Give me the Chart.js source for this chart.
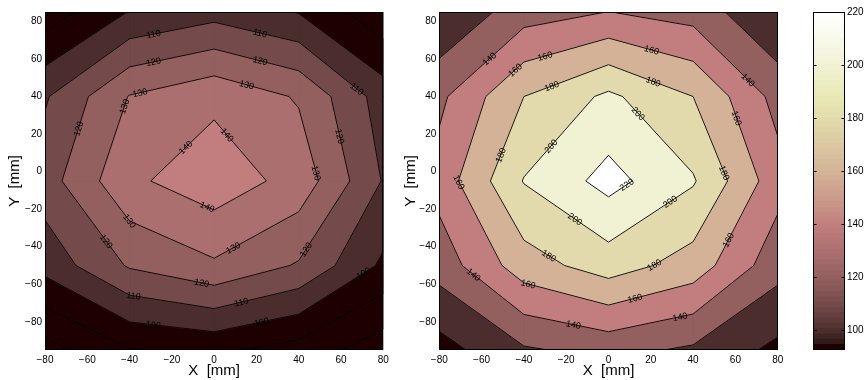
<!DOCTYPE html>
<html><head><meta charset="utf-8">
<script src="https://cdn.jsdelivr.net/npm/chart.js@4.4.1/dist/chart.umd.min.js"></script>
<style>
html,body{margin:0;padding:0;background:#fff;width:866px;height:380px;overflow:hidden;position:relative}
canvas{position:absolute;top:0}
</style></head><body>
<canvas id="cL" width="400" height="380" style="left:0px"></canvas>
<canvas id="cR" width="400" height="380" style="left:400px"></canvas>
<canvas id="cB" width="86" height="380" style="left:780px"></canvas>
<script>
// ---- data ----
const xGrid = [-80, -40, 0, 40, 80];
const yGrid = [-95, -50, -5, 40, 85];
// rows follow yGrid (bottom to top), columns follow xGrid
const zLeft = [
  [76, 89.5, 92.2, 86, 74],
  [103.6, 121.1, 128.5, 119, 98.1],
  [115.5, 138, 146, 136.3, 109.3],
  [108.9, 130.5, 137.7, 129, 105.3],
  [84.2, 100.5, 106.2, 99.5, 83]
];
const zRight = [
  [92, 117.5, 126.3, 116.7, 95],
  [128.5, 171, 189.7, 171.4, 127.6],
  [148, 201, 227, 202, 148],
  [135.6, 180, 204, 180, 133],
  [101, 131, 140.3, 132, 100.5]
];
const levelsLeft = [80, 90, 100, 110, 120, 130, 140];
const levelsRight = [100, 120, 140, 160, 180, 200, 220];
const xTicks = [-80, -60, -40, -20, 0, 20, 40, 60, 80];
const yTicks = [-80, -60, -40, -20, 0, 20, 40, 60, 80];
const colorbarTicks = [100, 120, 140, 160, 180, 200, 220];
const colorMin = 92.4, colorMax = 220;
// contour labels: [level, x, y]
const labelsLeft = [
  [110,-28.8,73.8],[120,-28.8,58.7],[130,-35.1,42.1],[130,-42.6,34.7],[120,-65,23.1],[140,-13.8,13.3],
  [110,21.7,73.8],[120,21.7,58.7],[130,15.4,46.2],[140,6.2,19.6],[110,67.4,43.9],[120,59.5,18.7],[130,47.7,-0.9],
  [140,-3,-18],[130,-40.6,-27.5],[120,-52.4,-38.2],[120,-5.9,-59.2],[110,-38.2,-67],[100,-28.8,-81.8],
  [130,8.3,-39.1],[120,43.8,-41.8],[110,12.9,-69.9],[100,22.5,-80.9],[100,70.5,-53.9]
];
const labelsRight = [
  [140,-56,59.6],[160,-44.2,54.2],[160,-30,61.3],[180,-26.9,45.7],[200,-26.9,13.3],[180,-51.3,8.9],[160,-70.2,-5.3],
  [160,20.4,64.9],[180,21.2,48],[200,13.3,30.2],[140,66.1,48.9],[160,60.6,28.5],[180,54.3,-0.9],[220,8,-6],
  [200,-16.6,-26.7],[180,-28.5,-45.3],[160,-37.9,-59.5],[140,-63.9,-55.1],[140,-16.6,-81.8],
  [200,29.1,-16],[180,21.2,-48.9],[160,12.5,-67.5],[140,33.8,-77.3],[160,56.6,-36.4]
];

// ---- styling helpers ----
const FONT = '"Liberation Sans", Arial, Helvetica, sans-serif';
Chart.defaults.font.family = FONT;
Chart.defaults.color = '#000';

function pinkColormap(m) {
  const n = Math.floor(3 * m / 8);
  const out = [];
  for (let i = 0; i < m; i++) {
    const g = i / (m - 1);
    const hr = i < n ? (i + 1) / n : 1;
    const hg = i < n ? 0 : (i < 2 * n ? (i - n + 1) / n : 1);
    const hb = i < 2 * n ? 0 : (i - 2 * n + 1) / (m - 2 * n);
    out.push([Math.sqrt((2 * g + hr) / 3), Math.sqrt((2 * g + hg) / 3), Math.sqrt((2 * g + hb) / 3)]);
  }
  return out;
}
const PINK = pinkColormap(64);
const rgbOf = c => `rgb(${Math.round(c[0]*255)},${Math.round(c[1]*255)},${Math.round(c[2]*255)})`;
function colorOf(v) {
  let idx = Math.floor((v - colorMin) / (colorMax - colorMin) * 64);
  idx = Math.max(0, Math.min(63, idx));
  return rgbOf(PINK[idx]);
}
const fmt = v => String(v).replace('-', '\u2212');

function buildContours(z, levels) {
  const fills = [], segs = {};
  const nx = xGrid.length, ny = yGrid.length;
  const zmin = Math.min(...z.flat());
  fills.push({pts: [{x:xGrid[0],y:yGrid[0]},{x:xGrid[nx-1],y:yGrid[0]},{x:xGrid[nx-1],y:yGrid[ny-1]},{x:xGrid[0],y:yGrid[ny-1]}], color: colorOf(zmin)});
  for (const L of levels) {
    segs[L] = [];
    for (let j = 0; j < ny - 1; j++) for (let i = 0; i < nx - 1; i++) {
      const c = [
        {x:xGrid[i], y:yGrid[j], v:z[j][i]},
        {x:xGrid[i+1], y:yGrid[j], v:z[j][i+1]},
        {x:xGrid[i+1], y:yGrid[j+1], v:z[j+1][i+1]},
        {x:xGrid[i], y:yGrid[j+1], v:z[j+1][i]}
      ];
      const poly = [], cross = [];
      for (let k = 0; k < 4; k++) {
        const a = c[k], b = c[(k+1)%4];
        const ina = a.v >= L, inb = b.v >= L;
        if (ina) poly.push({x:a.x, y:a.y});
        if (ina !== inb) {
          const t = (L - a.v) / (b.v - a.v);
          const p = {x: a.x + t*(b.x-a.x), y: a.y + t*(b.y-a.y)};
          poly.push(p); cross.push(p);
        }
      }
      if (poly.length >= 3) fills.push({pts: poly, color: colorOf(L)});
      if (cross.length === 2) segs[L].push([cross[0], cross[1]]);
      else if (cross.length === 4) {
        const mid = (c[0].v + c[1].v + c[2].v + c[3].v) / 4;
        if ((mid >= L) === (c[0].v >= L)) { segs[L].push([cross[0], cross[1]]); segs[L].push([cross[2], cross[3]]); }
        else { segs[L].push([cross[3], cross[0]]); segs[L].push([cross[1], cross[2]]); }
      }
    }
  }
  return {fills, segs};
}

function makeDatasets(fills, segs, levels) {
  const ds = []; let k = 0;
  for (const f of fills) {
    ds.push({data: [...f.pts, f.pts[0]], fill: 'shape', backgroundColor: f.color, borderColor: f.color,
      borderWidth: 1, pointRadius: 0, pointHoverRadius: 0, tension: 0, clip: 0, order: -(k++)});
  }
  for (const L of levels) {
    const data = [];
    for (const s of segs[L]) { data.push({x:s[0].x, y:s[0].y}, {x:s[1].x, y:s[1].y}, {x:s[1].x, y:null}); }
    ds.push({data, fill: false, borderColor: '#000', borderWidth: 0.9, pointRadius: 0, pointHoverRadius: 0,
      tension: 0, spanGaps: false, clip: 0, order: -(k++)});
  }
  return ds;
}

const framePlugin = {
  id: 'frame',
  afterDraw(chart) {
    const {ctx, chartArea: a} = chart;
    ctx.save();
    ctx.strokeStyle = '#000'; ctx.lineWidth = 1;
    const l = Math.round(a.left) + 0.5, t = Math.round(a.top) + 0.5, r = Math.round(a.right) - 0.5, b = Math.round(a.bottom) - 0.5;
    ctx.strokeRect(l, t, r - l, b - t);
    ctx.restore();
  }
};

function makeLabelPlugin(labels, segs) {
  return {
    id: 'contourLabels',
    afterDatasetsDraw(chart) {
      const {ctx} = chart; const xs = chart.scales.x, ys = chart.scales.y;
      ctx.save();
      ctx.font = '9px ' + FONT; ctx.fillStyle = '#000';
      ctx.textAlign = 'center'; ctx.textBaseline = 'middle';
      for (const [L, lx, ly] of labels) {
        const px = xs.getPixelForValue(lx), py = ys.getPixelForValue(ly);
        let best = null, bd = Infinity;
        for (const s of segs[L] || []) {
          const ax = xs.getPixelForValue(s[0].x), ay = ys.getPixelForValue(s[0].y);
          const bx = xs.getPixelForValue(s[1].x), by = ys.getPixelForValue(s[1].y);
          const dx = bx - ax, dy = by - ay, len2 = dx*dx + dy*dy || 1;
          let t = ((px-ax)*dx + (py-ay)*dy) / len2; t = Math.max(0, Math.min(1, t));
          const qx = ax + t*dx, qy = ay + t*dy;
          const d = (qx-px)*(qx-px) + (qy-py)*(qy-py);
          if (d < bd) { bd = d; best = {qx, qy, ang: Math.atan2(dy, dx)}; }
        }
        if (!best) continue;
        let ang = best.ang;
        if (ang > Math.PI/2) ang -= Math.PI;
        if (ang < -Math.PI/2) ang += Math.PI;
        ctx.save(); ctx.translate(best.qx, best.qy); ctx.rotate(ang);
        ctx.fillText(String(L), 0, 0.5);
        ctx.restore();
      }
      ctx.restore();
    }
  };
}

function plotChart(id, z, levels, labels, yAxisWidth, padRight, yTitlePad) {
  const {fills, segs} = buildContours(z, levels);
  return new Chart(document.getElementById(id), {
    type: 'line',
    data: {datasets: makeDatasets(fills, segs, levels)},
    options: {
      responsive: false, animation: false, events: [],
      layout: {padding: {top: 12, right: padRight, left: 0, bottom: 0}},
      plugins: {legend: {display: false}, tooltip: {enabled: false}},
      scales: {
        x: {type: 'linear', min: -80, max: 80,
          afterBuildTicks: s => { s.ticks = xTicks.map(v => ({value: v})); },
          afterFit: s => { s.height = 30; },
          grid: {display: false, drawTicks: false}, border: {display: false},
          ticks: {font: {size: 10}, color: '#000', padding: 4, maxRotation: 0, autoSkip: false, callback: v => fmt(v)},
          title: {display: true, text: 'X  [mm]', font: {size: 15}, color: '#000', padding: 0}},
        y: {type: 'linear', min: -95, max: 85,
          afterBuildTicks: s => { s.ticks = yTicks.map(v => ({value: v})); },
          afterFit: s => { s.width = yAxisWidth; },
          grid: {display: false, drawTicks: false}, border: {display: false},
          ticks: {font: {size: 10}, color: '#000', padding: 3, autoSkip: false, callback: v => fmt(v)},
          title: {display: true, text: 'Y  [mm]', font: {size: 15}, color: '#000', padding: {top: yTitlePad, bottom: 0}}}
      }
    },
    plugins: [framePlugin, makeLabelPlugin(labels, segs)]
  });
}

plotChart('cL', zLeft, levelsLeft, labelsLeft, 45, 16.7, 6);
plotChart('cR', zRight, levelsRight, labelsRight, 39.3, 22.3, 2);

// ---- colorbar ----
const cbStep = (colorMax - colorMin) / PINK.length;
const colorbarPlugin = {
  id: 'cbframe',
  afterDraw(chart) {
    const {ctx, chartArea: a} = chart; const ys = chart.scales.y;
    ctx.save();
    ctx.strokeStyle = '#000'; ctx.lineWidth = 1;
    const l = Math.round(a.left) + 0.5, t = Math.round(a.top) + 0.5, r = Math.round(a.right) - 0.5, b = Math.round(a.bottom) - 0.5;
    ctx.strokeRect(l, t, r - l, b - t);
    ctx.beginPath();
    for (const v of colorbarTicks) {
      const y = Math.round(ys.getPixelForValue(v)) + 0.5;
      ctx.moveTo(l, y); ctx.lineTo(l + 3, y);
      ctx.moveTo(r, y); ctx.lineTo(r - 3, y);
    }
    ctx.stroke();
    ctx.restore();
  }
};
new Chart(document.getElementById('cB'), {
  type: 'bar',
  data: {labels: ['c'], datasets: PINK.map((c, i) => ({
    data: [[colorMin + i*cbStep, Math.min(colorMax, colorMin + (i+1)*cbStep + cbStep*0.08)]],
    backgroundColor: rgbOf(c), borderWidth: 0, grouped: false, barPercentage: 1, categoryPercentage: 1
  }))},
  options: {
    responsive: false, animation: false, events: [],
    layout: {padding: {top: 12, left: 33, right: 0, bottom: 30}},
    plugins: {legend: {display: false}, tooltip: {enabled: false}},
    scales: {
      x: {display: false},
      y: {position: 'right', min: colorMin, max: colorMax,
        afterBuildTicks: s => { s.ticks = colorbarTicks.map(v => ({value: v})); },
        afterFit: s => { s.width = 21; },
        grid: {display: false, drawTicks: false}, border: {display: false},
        ticks: {font: {size: 10}, color: '#000', padding: 2, autoSkip: false}}
    }
  },
  plugins: [colorbarPlugin]
});
</script>
</body></html>
